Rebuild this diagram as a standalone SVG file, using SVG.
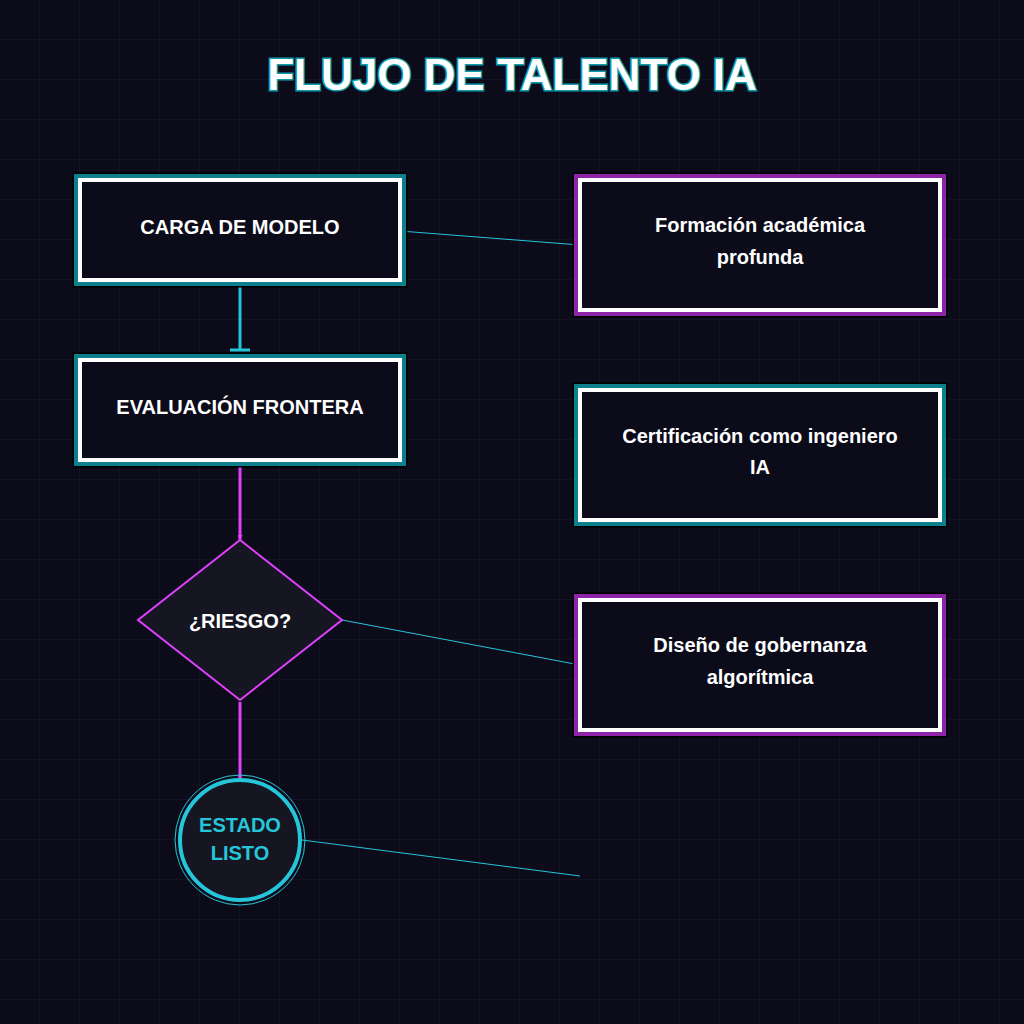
<svg xmlns="http://www.w3.org/2000/svg" width="1024" height="1024" viewBox="0 0 1024 1024">
<defs>
<pattern id="grid" width="40" height="40" patternUnits="userSpaceOnUse"><path d="M40 0V40H0" fill="none" stroke="#1a1a2e" stroke-width="1"/></pattern>
<marker id="arr" viewBox="0 0 10 10" refX="10" refY="5" markerWidth="5" markerHeight="5" orient="auto" markerUnits="userSpaceOnUse"><path d="M0 0L10 5L0 10Z" fill="#e040fb"/></marker>
<marker id="tee" viewBox="0 0 4 20" refX="2" refY="10" markerWidth="4" markerHeight="20" orient="auto" markerUnits="userSpaceOnUse"><path d="M2 0V20" stroke="#26c6da" stroke-width="3"/></marker>
</defs>
<style>
.t{font-family:"Liberation Sans",Arial,sans-serif;font-weight:bold;fill:#fff;text-anchor:middle}
.box{fill:#0b0b1a;stroke:#fff;stroke-width:4}
.tealo{fill:none;stroke:#0e7f8c;stroke-width:6}
.purpo{fill:none;stroke:#8e24aa;stroke-width:6}
.blk{fill:none;stroke:#000;stroke-width:3}
</style>
<rect width="1024" height="1024" fill="#0b0b1a"/>
<rect width="1024" height="1024" fill="url(#grid)"/>
<text x="512" y="90" class="t" font-size="44" fill="#e0ffff" stroke="#0e9aa8" stroke-width="3" paint-order="stroke">FLUJO DE TALENTO IA</text>
<g id="connectors" fill="none">
<path d="M240 282V350" stroke="#26c6da" stroke-width="3" marker-end="url(#tee)"/>
<path d="M240 462V540" stroke="#e040fb" stroke-width="3" marker-end="url(#arr)"/>
<path d="M240 702V780" stroke="#e040fb" stroke-width="3" marker-end="url(#arr)"/>
<path d="M400 231L580 245" stroke="#26c6da" stroke-width="1"/>
<path d="M342 620L580 665" stroke="#26c6da" stroke-width="1"/>
<path d="M302 840L580 876" stroke="#26c6da" stroke-width="1"/>
</g>
<g id="carga"><rect x="74" y="174" width="332" height="112" class="blk"/><rect x="77" y="177" width="326" height="106" class="tealo"/><rect x="80" y="180" width="320" height="100" class="box"/><text x="240" y="234" class="t" font-size="20">CARGA DE MODELO</text></g>
<g id="eval"><rect x="74" y="354" width="332" height="112" class="blk"/><rect x="77" y="357" width="326" height="106" class="tealo"/><rect x="80" y="360" width="320" height="100" class="box"/><text x="240" y="414" class="t" font-size="20">EVALUACIÓN FRONTERA</text></g>
<g id="riesgo"><path d="M240 540L342 620L240 700L138 620Z" fill="#161622" stroke="#e040fb" stroke-width="2"/><text x="240" y="628" class="t" font-size="20">¿RIESGO?</text></g>
<g id="listo"><circle cx="240" cy="840" r="65" fill="none" stroke="#26c6da" stroke-width="1"/><circle cx="240" cy="840" r="60" fill="#161622" stroke="#26c6da" stroke-width="4"/><text x="240" y="832" class="t" font-size="20" fill="#26c6da" style="fill:#26c6da">ESTADO</text><text x="240" y="860" class="t" font-size="20" style="fill:#26c6da">LISTO</text></g>
<g id="formacion"><rect x="574" y="174" width="372" height="142" class="blk"/><rect x="577" y="177" width="366" height="136" class="purpo"/><rect x="580" y="180" width="360" height="130" class="box"/><text x="760" y="232" class="t" font-size="20">Formación académica</text><text x="760" y="264" class="t" font-size="20">profunda</text></g>
<g id="certificacion"><rect x="574" y="384" width="372" height="142" class="blk"/><rect x="577" y="387" width="366" height="136" class="tealo"/><rect x="580" y="390" width="360" height="130" class="box"/><text x="760" y="443" class="t" font-size="20">Certificación como ingeniero</text><text x="760" y="474" class="t" font-size="20">IA</text></g>
<g id="diseno"><rect x="574" y="594" width="372" height="142" class="blk"/><rect x="577" y="597" width="366" height="136" class="purpo"/><rect x="580" y="600" width="360" height="130" class="box"/><text x="760" y="652" class="t" font-size="20">Diseño de gobernanza</text><text x="760" y="684" class="t" font-size="20">algorítmica</text></g>
</svg>
